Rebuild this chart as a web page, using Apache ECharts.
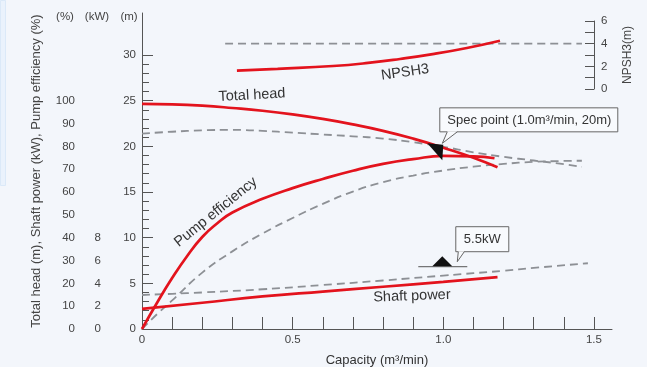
<!DOCTYPE html>
<html>
<head>
<meta charset="utf-8">
<script src="https://cdn.jsdelivr.net/npm/echarts@6/dist/echarts.min.js"></script>
<style>
  html, body { margin: 0; padding: 0; background: #f3f6fb; }
  #main { width: 647px; height: 367px; }
</style>
</head>
<body>
<div id="main"></div>
<script>
// 数据
const headCap = [0, 0.1, 0.2, 0.3, 0.4, 0.5, 0.6, 0.7, 0.8, 0.9, 1.0, 1.1, 1.18];
const headVal = [24.65, 24.6, 24.45, 24.2, 23.9, 23.5, 23.0, 22.4, 21.7, 20.85, 19.85, 18.75, 17.7];

const headRefCap = [0, 0.1, 0.2, 0.3, 0.4, 0.5, 0.6, 0.7, 0.8, 0.9, 1.0, 1.1, 1.2, 1.3, 1.4, 1.46];
const headRefVal = [21.4, 21.6, 21.75, 21.8, 21.7, 21.5, 21.3, 21.1, 20.85, 20.45, 19.95, 19.35, 18.85, 18.45, 18.05, 17.75];

const effCap = [0, 0.05, 0.1, 0.15, 0.2, 0.25, 0.3, 0.4, 0.5, 0.6, 0.7, 0.8, 0.9, 1.0, 1.1, 1.17];
const effVal = [0, 11.5, 22.3, 32, 40.3, 46.3, 51, 57, 61.7, 65.7, 69.3, 72.3, 74.4, 75.8, 75.6, 74.8];

const effRefCap = [0, 0.05, 0.1, 0.2, 0.3, 0.4, 0.5, 0.6, 0.7, 0.8, 0.9, 1.0, 1.1, 1.2, 1.3, 1.4, 1.46];
const effRefVal = [0, 6.5, 12.5, 24.7, 34, 41.8, 48.6, 54.8, 60.2, 64.3, 67.2, 69.4, 71.1, 72.3, 73.2, 73.6, 73.7];

const powerCap = [0, 0.2, 0.4, 0.6, 0.8, 1.0, 1.18];
const powerVal = [1.76, 2.3, 2.85, 3.28, 3.7, 4.13, 4.55];

const powerRefCap = [0, 0.1, 0.2, 0.4, 0.6, 0.8, 1.0, 1.2, 1.3, 1.48];
const powerRefVal = [2.98, 3.08, 3.2, 3.48, 3.85, 4.25, 4.68, 5.1, 5.35, 5.76];

const npshCap = [0.315, 0.45, 0.634, 0.75, 0.856, 0.97, 1.078, 1.188];
const npshVal = [1.62, 1.78, 2.03, 2.3, 2.65, 3.1, 3.62, 4.26];

const npshRefCap = [0.276, 1.46];
const npshRefVal = [4.0, 4.0];

// 刻度
const xTicks = [0, 0.1, 0.2, 0.3, 0.4, 0.5, 0.6, 0.7, 0.8, 0.9, 1.0, 1.1, 1.2, 1.3, 1.4, 1.5];
const xLabels = [0, 0.5, 1.0, 1.5];
const mMinorTicks = [];
for (let i = 0; i <= 30; i++) mMinorTicks.push(i);
const mLabels = [0, 5, 10, 15, 20, 25, 30];
const pctLabels = [0, 10, 20, 30, 40, 50, 60, 70, 80, 90, 100];
const kwLabels = [0, 2, 4, 6, 8];
const npshTicks = [0, 1, 2, 3, 4, 5, 6];
const npshLabels = [0, 2, 4, 6];

// 标注
const specPoint = [1.0, 20];
const specText = 'Spec point (1.0m³/min, 20m)';
const powerPoint = [1.0, 5.5];
const powerText = '5.5kW';
// [capacity, head(m), text, rotate(deg)]
const curveLabels = [
  [0.365, 25.6, 'Total head', 3],
  [0.245, 12.8, 'Pump efficiency', 39],
  [0.896, 3.6, 'Shaft power', 2],
  [0.873, 28.1, 'NPSH3', 8]
];

const M_MAX = 34.6;
const FONT = '"Liberation Sans", Arial, Helvetica, sans-serif';
const RED = '#e3131d';
const GREY = '#8d9095';
const AXIS = '#555';
const TXT = '#444';

function zip(a, b) { return a.map((v, i) => [v, b[i]]); }

function redLine(name, cap, val, yIdx, xIdx) {
  return {
    name, type: 'line', xAxisIndex: xIdx || 0, yAxisIndex: yIdx, data: zip(cap, val),
    smooth: 0.5, symbol: 'none', z: 4,
    lineStyle: { color: RED, width: 2.7 }
  };
}
function greyLine(name, cap, val, yIdx, xIdx) {
  return {
    name, type: 'line', xAxisIndex: xIdx || 0, yAxisIndex: yIdx, data: zip(cap, val),
    smooth: 0.5, symbol: 'none', z: 3,
    lineStyle: { color: GREY, width: 1.8, type: [8, 5] }
  };
}

function renderSpec(params, api) {
  const p = api.coord([api.value(0), api.value(1)]);
  const x = p[0], y = p[1];
  return {
    type: 'group', children: [
      { type: 'polygon', shape: { points: [[x - 16, y - 3], [x, y - 1.5], [x - 1, y + 14]] }, style: { fill: '#111' } },
      { type: 'rect', shape: { x: x - 3.5, y: y - 38.5, width: 178, height: 24 }, style: { fill: '#f8fafd', stroke: '#666', lineWidth: 1 } },
      { type: 'polygon', shape: { points: [[x + 4, y - 15], [x + 14, y - 15], [x - 1, y - 3]] }, style: { fill: '#f8fafd' } },
      { type: 'polyline', shape: { points: [[x + 4, y - 14.5], [x - 1, y - 3], [x + 14, y - 14.5]] }, style: { stroke: '#666', lineWidth: 1, fill: null } },
      { type: 'text', x: x + 86, y: y - 26, style: { text: specText, fill: '#333', fontSize: 13, fontFamily: FONT, align: 'center', verticalAlign: 'middle' } }
    ]
  };
}

function renderPower(params, api) {
  const p = api.coord([api.value(0), api.value(1)]);
  const x = p[0], y = p[1];
  return {
    type: 'group', children: [
      { type: 'line', shape: { x1: x - 25, y1: y + 0.5, x2: x + 24, y2: y + 0.5 }, style: { stroke: '#555', lineWidth: 1 } },
      { type: 'polygon', shape: { points: [[x - 11, y], [x + 9, y], [x - 1, y - 10]] }, style: { fill: '#111' } },
      { type: 'rect', shape: { x: x + 12.5, y: y - 39.5, width: 53, height: 25 }, style: { fill: '#f8fafd', stroke: '#666', lineWidth: 1 } },
      { type: 'polygon', shape: { points: [[x + 15, y - 15], [x + 21, y - 15], [x + 14, y - 4.5]] }, style: { fill: '#f8fafd' } },
      { type: 'polyline', shape: { points: [[x + 15, y - 14.5], [x + 14, y - 4.5], [x + 21, y - 14.5]] }, style: { stroke: '#666', lineWidth: 1, fill: null } },
      { type: 'text', x: x + 39, y: y - 27, style: { text: powerText, fill: '#333', fontSize: 13, fontFamily: FONT, align: 'center', verticalAlign: 'middle' } }
    ]
  };
}

function renderCurveLabel(params, api) {
  const item = curveLabels[params.dataIndex];
  const p = api.coord([item[0], item[1]]);
  return {
    type: 'text', x: p[0], y: p[1], rotation: item[3] * Math.PI / 180,
    style: { text: item[2], fill: '#333', fontSize: 14.5, fontFamily: FONT, align: 'center', verticalAlign: 'middle' }
  };
}

const labelStyle = { color: TXT, fontSize: 11.5, fontFamily: FONT };

const chart = echarts.init(document.getElementById('main'), null, { renderer: 'canvas' });
chart.setOption({
  backgroundColor: '#f3f6fb',
  animation: false,
  textStyle: { fontFamily: FONT },
  grid: [
    { left: 142, right: 35, top: 13, bottom: 38, outerBoundsMode: 'none', containLabel: false },
    { left: 142, width: 452, top: 21, height: 68, outerBoundsMode: 'none', containLabel: false }
  ],
  xAxis: [
    {
      gridIndex: 0, type: 'value', min: 0, max: 1.56,
      name: 'Capacity (m³/min)', nameLocation: 'middle', nameGap: 25,
      nameTextStyle: { color: '#333', fontSize: 13, fontFamily: FONT },
      axisLine: { lineStyle: { color: AXIS, width: 1 } },
      axisTick: { inside: true, length: 12, customValues: xTicks, lineStyle: { color: AXIS } },
      axisLabel: Object.assign({ customValues: xLabels, margin: 5, formatter: v => v === 0 ? '0' : v.toFixed(1) }, labelStyle),
      splitLine: { show: false }
    },
    { gridIndex: 1, type: 'value', min: 0, max: 1.5, show: false }
  ],
  yAxis: [
    {
      gridIndex: 0, type: 'value', min: 0, max: M_MAX, position: 'left',
      axisLine: { show: true, onZero: false, lineStyle: { color: AXIS, width: 1 } },
      axisTick: { show: true, inside: true, length: 7, customValues: mMinorTicks, lineStyle: { color: AXIS } },
      axisLabel: Object.assign({ customValues: mLabels, margin: 6 }, labelStyle),
      splitLine: { show: false }
    },
    {
      gridIndex: 0, type: 'value', min: 0, max: M_MAX, position: 'left',
      axisLine: { show: false, onZero: false },
      axisTick: { show: true, inside: true, length: 11, customValues: mLabels, lineStyle: { color: AXIS } },
      axisLabel: { show: false },
      splitLine: { show: false }
    },
    {
      gridIndex: 0, type: 'value', min: 0, max: M_MAX * 4, position: 'left', offset: 61,
      name: 'Total head (m), Shaft power (kW), Pump efficiency (%)',
      nameLocation: 'middle', nameGap: 38,
      nameTextStyle: { color: '#444', fontSize: 13, fontFamily: FONT },
      axisLine: { show: false, onZero: false }, axisTick: { show: false },
      axisLabel: Object.assign({ customValues: pctLabels, margin: 6 }, labelStyle),
      splitLine: { show: false }
    },
    {
      gridIndex: 0, type: 'value', min: 0, max: M_MAX * 0.8, position: 'left', offset: 35,
      axisLine: { show: false, onZero: false }, axisTick: { show: false },
      axisLabel: Object.assign({ customValues: kwLabels, margin: 6 }, labelStyle),
      splitLine: { show: false }
    },
    {
      gridIndex: 1, type: 'value', min: 0, max: 6, position: 'right',
      name: 'NPSH3(m)', nameLocation: 'middle', nameGap: 28,
      nameTextStyle: { color: '#444', fontSize: 12, fontFamily: FONT },
      axisLine: { show: true, onZero: false, lineStyle: { color: AXIS, width: 1 } },
      axisTick: { show: true, inside: true, length: 9, customValues: npshTicks, lineStyle: { color: AXIS } },
      axisLabel: Object.assign({ customValues: npshLabels, margin: 7 }, labelStyle),
      splitLine: { show: false }
    }
  ],
  graphic: [
    { type: 'rect', left: 0, top: 0, shape: { width: 5, height: 185 }, style: { fill: '#eaf2fc', stroke: '#dbe9f8', lineWidth: 1 }, silent: true },
    { type: 'text', x: 65, y: 17, style: { text: '(%)', fill: TXT, fontSize: 11.5, fontFamily: FONT, align: 'center', verticalAlign: 'middle' } },
    { type: 'text', x: 97, y: 17, style: { text: '(kW)', fill: TXT, fontSize: 11.5, fontFamily: FONT, align: 'center', verticalAlign: 'middle' } },
    { type: 'text', x: 129, y: 17, style: { text: '(m)', fill: TXT, fontSize: 11.5, fontFamily: FONT, align: 'center', verticalAlign: 'middle' } }
  ],
  series: [
    greyLine('Total head (ref)', headRefCap, headRefVal, 0),
    greyLine('Pump efficiency (ref)', effRefCap, effRefVal, 2),
    greyLine('Shaft power (ref)', powerRefCap, powerRefVal, 3),
    greyLine('NPSH3 (ref)', npshRefCap, npshRefVal, 4, 1),
    redLine('Total head', headCap, headVal, 0),
    redLine('Pump efficiency', effCap, effVal, 2),
    redLine('Shaft power', powerCap, powerVal, 3),
    redLine('NPSH3', npshCap, npshVal, 4, 1),
    { type: 'custom', name: 'spec', xAxisIndex: 0, yAxisIndex: 0, clip: false, z: 6, data: [specPoint], renderItem: renderSpec },
    { type: 'custom', name: 'power', xAxisIndex: 0, yAxisIndex: 3, clip: false, z: 6, data: [powerPoint], renderItem: renderPower },
    { type: 'custom', name: 'labels', xAxisIndex: 0, yAxisIndex: 0, clip: false, z: 6,
      data: curveLabels.map(d => [d[0], d[1]]), renderItem: renderCurveLabel }
  ]
});
</script>
</body>
</html>
